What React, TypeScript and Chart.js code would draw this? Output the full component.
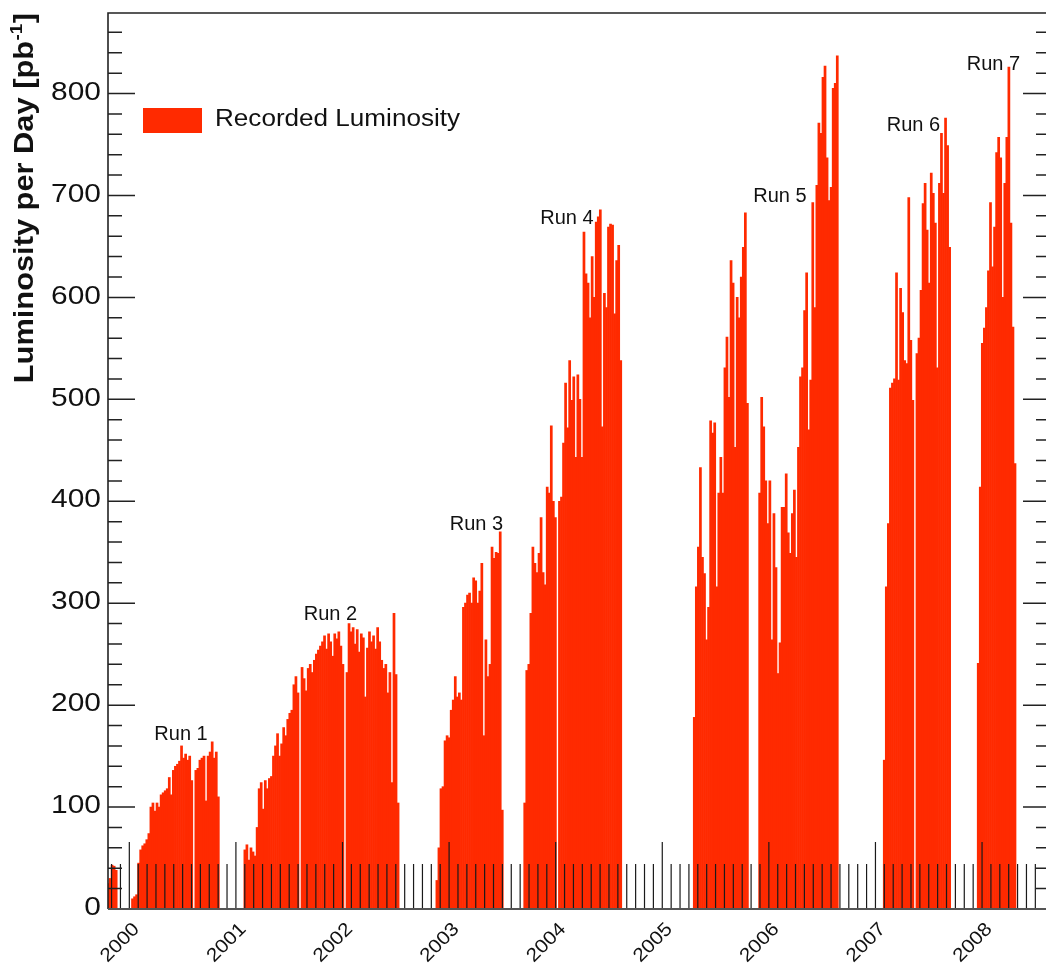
import React, { useEffect, useRef } from 'react';
import { Chart, registerables } from 'chart.js';

Chart.register(...registerables);

// Axis ranges (years on x, pb^-1 per day on y)
const X_MIN = 1999.8;
const X_MAX = 2008.6;
const LAST_MONTH_TICK = 2008.5;
const Y_MAX = 879;
const WEEK = 7 / 365.25;

const YEAR_LABELS = ['2000', '2001', '2002', '2003', '2004', '2005', '2006', '2007', '2008'];
const Y_TICK_LABELS = ['0', '100', '200', '300', '400', '500', '600', '700', '800'];

// First week of each running period, counted in weeks from X_MIN
const RUN_START_WEEKS = [0, 12, 67, 161, 204, 287, 319, 380, 426];

// Recorded luminosity per day, one value per week of running
const RUN0 = [25, 30, 43, 42, 38];
const RUN1 = [10, 12, 14, 45, 58, 62, 64, 68, 74, 100, 104, 96, 104, 100, 112, 114, 116, 118, 129, 112, 136, 140, 142, 145, 160, 148, 152, 146, 150, 126, 0, 136, 138, 146, 148, 150, 106, 150, 154, 164, 148, 154, 110];
const RUN2 = [58, 63, 48, 60, 56, 52, 80, 118, 124, 98, 126, 118, 128, 130, 150, 160, 172, 150, 162, 178, 170, 186, 192, 195, 220, 228, 212, 0, 237, 226, 214, 236, 240, 232, 244, 250, 254, 258, 262, 268, 255, 270, 262, 248, 270, 265, 272, 258, 240, 0, 232, 280, 272, 276, 260, 274, 252, 270, 266, 208, 256, 272, 262, 268, 255, 276, 262, 244, 236, 240, 212, 232, 124, 290, 230, 104];
const RUN3 = [28, 60, 118, 120, 165, 170, 168, 195, 205, 228, 208, 212, 205, 296, 300, 308, 310, 300, 325, 322, 300, 312, 339, 170, 264, 228, 240, 355, 344, 350, 349, 370, 97];
const RUN4 = [104, 234, 240, 290, 355, 339, 330, 349, 384, 330, 318, 414, 408, 474, 400, 384, 0, 400, 404, 457, 516, 472, 538, 499, 522, 443, 524, 500, 443, 664, 623, 614, 580, 640, 600, 674, 679, 686, 473, 604, 590, 669, 672, 671, 584, 636, 651, 538];
const RUN5A = [188, 316, 355, 433, 345, 329, 264, 296, 479, 467, 477, 316, 408, 443, 408, 531, 561, 502, 636, 614, 453, 600, 580, 620, 649, 683, 496];
const RUN5B = [408, 502, 473, 420, 378, 420, 264, 388, 335, 231, 261, 394, 394, 427, 369, 349, 388, 411, 345, 453, 522, 531, 587, 624, 470, 519, 693, 590, 710, 771, 761, 816, 827, 737, 695, 708, 805, 810, 837];
const RUN6 = [146, 316, 378, 511, 516, 520, 624, 519, 609, 585, 538, 535, 698, 558, 499, 0, 545, 560, 607, 692, 712, 666, 614, 722, 702, 673, 531, 712, 761, 702, 776, 749, 649];
const RUN7 = [241, 414, 555, 570, 590, 626, 693, 630, 669, 742, 757, 737, 600, 712, 757, 826, 673, 571, 437];

const RUNS = [RUN0, RUN1, RUN2, RUN3, RUN4, RUN5A, RUN5B, RUN6, RUN7];

// Run annotations: text, year position, luminosity of the text baseline
const RUN_NAMES = ['Run 1', 'Run 2', 'Run 3', 'Run 4', 'Run 5', 'Run 6', 'Run 7'];
const RUN_NAME_YEARS = [2000.485, 2001.887, 2003.257, 2004.106, 2006.104, 2007.356, 2008.107];
const RUN_NAME_LUMIS = [165.7, 283.3, 371.6, 671.6, 693.1, 763.7, 823.5];

const LEGEND_LABEL = 'Recorded Luminosity';
const BAR_COLOR = '#ff2a00';
const FONT_FAMILY = '"Liberation Sans", Arial, Helvetica, sans-serif';

const points = RUNS.flatMap((values, r) =>
  values.map((v, i) => ({ x: X_MIN + (RUN_START_WEEKS[r] + i) * WEEK, y: v }))
);

// Text drawn with a stretch along its own direction
function stretchedText(
  ctx: CanvasRenderingContext2D,
  text: string,
  px: number,
  py: number,
  angle: number,
  stretch: number
) {
  ctx.save();
  ctx.translate(px, py);
  ctx.rotate(angle);
  ctx.scale(stretch, 1);
  ctx.fillText(text, 0, 0);
  ctx.restore();
}

const decorPlugin = {
  id: 'decor',
  afterDatasetsDraw(chart: any) {
    const ctx: CanvasRenderingContext2D = chart.ctx;
    const a = chart.chartArea;
    const xs = chart.scales.x;
    const ys = chart.scales.y;
    ctx.save();

    // monthly tick marks along the bottom, taller at each new year
    ctx.strokeStyle = '#1a1a1a';
    ctx.lineWidth = 1.2;
    const firstMonth = Math.ceil(X_MIN * 12);
    const lastMonth = Math.floor(LAST_MONTH_TICK * 12 + 1e-6);
    for (let m = firstMonth; m <= lastMonth; m++) {
      const px = xs.getPixelForValue(m / 12);
      const len = m % 12 === 0 ? 67 : 45;
      ctx.beginPath();
      ctx.moveTo(px, a.bottom);
      ctx.lineTo(px, a.bottom - len);
      ctx.stroke();
    }

    // y ticks on both sides, every 20, long every 100
    ctx.strokeStyle = '#222';
    ctx.lineWidth = 1.5;
    for (let v = 20; v <= Y_MAX; v += 20) {
      const py = ys.getPixelForValue(v);
      const major = v % 100 === 0;
      ctx.beginPath();
      ctx.moveTo(a.left, py);
      ctx.lineTo(a.left + (major ? 27 : 14), py);
      ctx.moveTo(a.right, py);
      ctx.lineTo(a.right - (major ? 23 : 10), py);
      ctx.stroke();
    }

    // frame
    ctx.strokeStyle = '#222';
    ctx.lineWidth = 1.6;
    ctx.beginPath();
    ctx.moveTo(a.right, a.top);
    ctx.lineTo(a.left, a.top);
    ctx.lineTo(a.left, a.bottom);
    ctx.stroke();
    ctx.strokeStyle = '#555';
    ctx.lineWidth = 2;
    ctx.beginPath();
    ctx.moveTo(a.left, a.bottom);
    ctx.lineTo(a.right, a.bottom);
    ctx.stroke();

    ctx.fillStyle = '#111';

    // y tick labels
    ctx.font = `26px ${FONT_FAMILY}`;
    ctx.textAlign = 'right';
    ctx.textBaseline = 'middle';
    Y_TICK_LABELS.forEach((label) => {
      stretchedText(ctx, label, a.left - 7, ys.getPixelForValue(Number(label)) - 1, 0, 1.15);
    });

    // year labels, slanted
    ctx.font = `19px ${FONT_FAMILY}`;
    ctx.textAlign = 'right';
    ctx.textBaseline = 'alphabetic';
    YEAR_LABELS.forEach((label) => {
      const px = xs.getPixelForValue(Number(label));
      stretchedText(ctx, label, px + 11, a.bottom + 21, -Math.PI / 4, 1.1);
    });

    // y axis title with superscript
    const titleMain = 'Luminosity per Day [pb';
    const titleSup = '-1';
    const titleEnd = ']';
    const s = 1.1;
    ctx.textAlign = 'left';
    ctx.textBaseline = 'alphabetic';
    ctx.font = `bold 28px ${FONT_FAMILY}`;
    const wMain = ctx.measureText(titleMain).width;
    const wEnd = ctx.measureText(titleEnd).width;
    ctx.font = `bold 17px ${FONT_FAMILY}`;
    const wSup = ctx.measureText(titleSup).width;
    const total = (wMain + wSup + wEnd + 1) * s;
    ctx.save();
    ctx.translate(33, a.top + total);
    ctx.rotate(-Math.PI / 2);
    ctx.scale(s, 1);
    ctx.font = `bold 28px ${FONT_FAMILY}`;
    ctx.fillText(titleMain, 0, 0);
    ctx.font = `bold 17px ${FONT_FAMILY}`;
    ctx.fillText(titleSup, wMain + 0.5, -11);
    ctx.font = `bold 28px ${FONT_FAMILY}`;
    ctx.fillText(titleEnd, wMain + wSup + 1, 0);
    ctx.restore();

    // legend
    ctx.fillStyle = BAR_COLOR;
    ctx.fillRect(a.left + 35, a.top + 95, 59, 25);
    ctx.fillStyle = '#111';
    ctx.font = `23.5px ${FONT_FAMILY}`;
    ctx.textAlign = 'left';
    ctx.textBaseline = 'alphabetic';
    stretchedText(ctx, LEGEND_LABEL, a.left + 107, a.top + 113, 0, 1.11);

    // run annotations
    ctx.font = `20px ${FONT_FAMILY}`;
    ctx.textAlign = 'center';
    RUN_NAMES.forEach((name, i) => {
      ctx.fillText(name, xs.getPixelForValue(RUN_NAME_YEARS[i]), ys.getPixelForValue(RUN_NAME_LUMIS[i]));
    });

    ctx.restore();
  },
};

export default function App() {
  const canvasRef = useRef<HTMLCanvasElement | null>(null);

  useEffect(() => {
    const canvas = canvasRef.current;
    if (!canvas) return;
    const chart = new Chart(canvas, {
      type: 'bar',
      data: {
        datasets: [
          {
            label: LEGEND_LABEL,
            data: points,
            backgroundColor: BAR_COLOR,
            borderWidth: 0,
            barPercentage: 1,
            categoryPercentage: 1,
          },
        ],
      },
      options: {
        animation: false,
        responsive: false,
        devicePixelRatio: 1,
        events: [],
        layout: { padding: { left: 108, top: 13, right: 0, bottom: 54 } },
        plugins: { legend: { display: false }, tooltip: { enabled: false } },
        scales: {
          x: {
            type: 'linear',
            min: X_MIN,
            max: X_MAX,
            offset: false,
            display: false,
            ticks: { stepSize: 1 },
            grid: { offset: false },
          },
          y: { type: 'linear', min: 0, max: Y_MAX, display: false },
        },
      },
      plugins: [decorPlugin],
    });
    return () => chart.destroy();
  }, []);

  return (
    <div style={{ position: 'fixed', left: 0, top: 0, width: 1046, height: 963, background: '#fff' }}>
      <canvas ref={canvasRef} width={1046} height={963} style={{ display: 'block', width: 1046, height: 963 }} />
    </div>
  );
}
